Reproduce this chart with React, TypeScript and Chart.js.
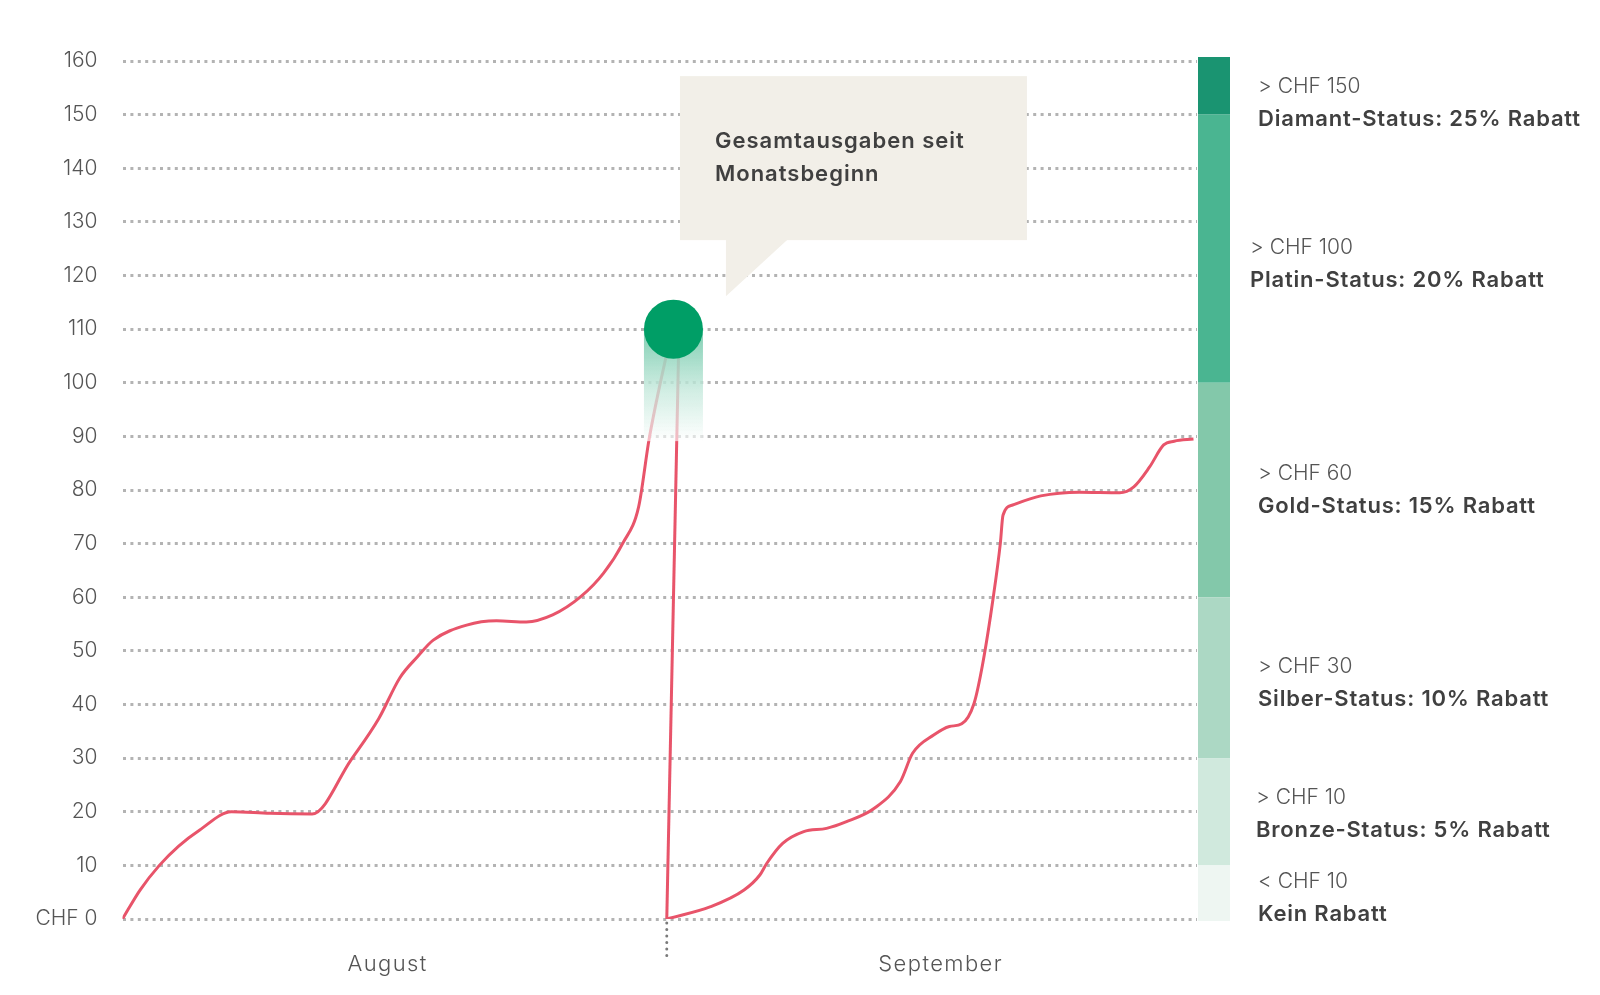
import { useEffect, useRef } from "react";
import { Chart, registerables } from "chart.js";

Chart.register(...registerables);

// ---------- data ----------
const MONTHS = ["August", "September"];
const MONTH_LABEL_DAYS = [15.1, 46.6];
const MONTH_BOUNDARY_DAY = 31;

const AUG_DAYS = [0, 1.0, 2.1, 3.2, 4.4, 6.2, 8.4, 10.8, 13.0, 14.6, 15.8, 16.8, 17.7, 19.6, 21.3, 23.0, 24.5, 26.1, 27.4, 28.5, 29.4, 30.0, 31.3];
const AUG_VALUES = [0, 5.4, 10, 13.6, 16.6, 20, 19.7, 19.6, 29.6, 37.4, 45.0, 48.9, 52.0, 54.8, 55.6, 55.4, 56.7, 60.1, 64.5, 70.1, 76.9, 89.6, 110];

const DROP_DAYS = [31.7, 31];
const DROP_VALUES = [110, 0];

const SEP_DAYS = [31, 33.5, 35.4, 36.3, 36.7, 37.6, 38.8, 40.1, 41.2, 42.8, 44.3, 45.0, 46.2, 47.1, 47.8, 48.5, 49.0, 49.6, 50.0, 50.15, 50.7, 52.3, 54.5, 56.8, 57.6, 58.5, 59.3, 59.9, 61.0];
const SEP_VALUES = [0, 2.3, 5.4, 8.2, 10.4, 14.1, 16.3, 16.9, 18.1, 20.6, 25.6, 30.9, 34.3, 35.9, 36.4, 40.2, 47.7, 60.1, 70.1, 75.3, 77.2, 78.9, 79.6, 79.5, 80.6, 84.3, 88.4, 89.1, 89.5];

const DOT_DAY = 31.38;
const DOT_VALUE = 110;

const Y_TICKS = [0, 10, 20, 30, 40, 50, 60, 70, 80, 90, 100, 110, 120, 130, 140, 150, 160];

const TIER_MIN = [150, 100, 60, 30, 10, 0];
const TIER_MAX = [160, 150, 100, 60, 30, 10];
const TIER_COLORS = ["#1a9471", "#4ab591", "#83c8aa", "#acd8c4", "#d0e9dd", "#eef6f2"];
const TIER_THRESHOLDS = ["> CHF 150", "> CHF 100", "> CHF 60", "> CHF 30", "> CHF 10", "< CHF 10"];
const TIER_NAMES = [
  "Diamant-Status: 25% Rabatt",
  "Platin-Status: 20% Rabatt",
  "Gold-Status: 15% Rabatt",
  "Silber-Status: 10% Rabatt",
  "Bronze-Status: 5% Rabatt",
  "Kein Rabatt",
];

const CALLOUT_LINES = ["Gesamtausgaben seit", "Monatsbeginn"];

// ---------- styles / layout ----------
const FONT = 'Inter, "Noto Sans", sans-serif';
const LINE_COLOR = "#e8546a";
const DOT_COLOR = "#009e66";
const TEXT_COLOR = "#555555";
const BOLD_COLOR = "#404040";
const TIER_LABEL_NUDGE = [5, 5, -10, -5, -8, -4];
const TIER_LABEL_X = [1258, 1250, 1258, 1258, 1256, 1258];

const toPoints = (xs: number[], ys: number[]) => xs.map((x, i) => ({ x, y: ys[i] }));

const overlayPlugin = {
  id: "overlay",
  beforeDatasetsDraw(chart: any) {
    const { ctx } = chart;
    const y = chart.scales.y;
    const x = chart.scales.x;
    // tier bar
    const left = chart.chartArea.right + 1;
    const w = 32;
    ctx.save();
    for (let i = 0; i < TIER_MIN.length; i++) {
      let top = y.getPixelForValue(TIER_MAX[i]);
      let bot = y.getPixelForValue(TIER_MIN[i]);
      if (i === 0) top -= 4;
      if (i === TIER_MIN.length - 1) bot += 2;
      ctx.fillStyle = TIER_COLORS[i];
      ctx.fillRect(left, top, w, bot - top);
    }
    // tier labels
    for (let i = 0; i < TIER_MIN.length; i++) {
      const top = y.getPixelForValue(TIER_MAX[i]);
      const bot = y.getPixelForValue(TIER_MIN[i]);
      const base = (top + bot) / 2 + TIER_LABEL_NUDGE[i];
      ctx.textBaseline = "alphabetic";
      ctx.textAlign = "left";
      ctx.fillStyle = TEXT_COLOR;
      ctx.font = `300 21px ${FONT}`;
      (ctx as any).letterSpacing = "0px";
      ctx.fillText(TIER_THRESHOLDS[i], TIER_LABEL_X[i], base);
      ctx.fillStyle = BOLD_COLOR;
      ctx.font = `600 22px ${FONT}`;
      (ctx as any).letterSpacing = "0.8px";
      ctx.fillText(TIER_NAMES[i], TIER_LABEL_X[i], base + 33);
    }
    // month labels
    (ctx as any).letterSpacing = "1.4px";
    ctx.font = `300 22px ${FONT}`;
    ctx.fillStyle = TEXT_COLOR;
    ctx.textAlign = "center";
    ctx.textBaseline = "middle";
    MONTHS.forEach((m, i) => ctx.fillText(m, x.getPixelForValue(MONTH_LABEL_DAYS[i]), chart.chartArea.bottom + 45));
    (ctx as any).letterSpacing = "0px";
    // month divider tick
    const xb = x.getPixelForValue(MONTH_BOUNDARY_DAY);
    const y0 = chart.chartArea.bottom;
    ctx.strokeStyle = "#7a7a7a";
    ctx.lineWidth = 3;
    ctx.lineCap = "round";
    ctx.setLineDash([0, 6.5]);
    ctx.beginPath();
    ctx.moveTo(xb, y0 + 4);
    ctx.lineTo(xb, y0 + 40);
    ctx.stroke();
    ctx.restore();
  },
  beforeDatasetDraw(chart: any, args: any) {
    if (args.index !== 0) return;
    const { ctx } = chart;
    const px = chart.scales.x.getPixelForValue(DOT_DAY);
    const py = chart.scales.y.getPixelForValue(DOT_VALUE);
    const r = 29.5;
    const h = 112;
    ctx.save();
    const g1 = ctx.createLinearGradient(0, py, 0, py + h);
    g1.addColorStop(0, "rgba(255,255,255,0.92)");
    g1.addColorStop(1, "rgba(255,255,255,0.6)");
    ctx.fillStyle = g1;
    ctx.fillRect(px - r, py, 2 * r, h);
    const g2 = ctx.createLinearGradient(0, py, 0, py + h);
    g2.addColorStop(0, "rgba(0,158,102,0.5)");
    g2.addColorStop(0.55, "rgba(0,158,102,0.18)");
    g2.addColorStop(1, "rgba(0,158,102,0)");
    ctx.fillStyle = g2;
    ctx.fillRect(px - r, py, 2 * r, h);
    ctx.restore();
  },
  afterDraw(chart: any) {
    const { ctx } = chart;
    const px = chart.scales.x.getPixelForValue(DOT_DAY);
    const py = chart.scales.y.getPixelForValue(DOT_VALUE);
    const bx = px + 6.5;
    const by = py - 253;
    const bw = 347;
    const bh = 164;
    ctx.save();
    ctx.fillStyle = "#f2efe8";
    ctx.fillRect(bx, by, bw, bh);
    ctx.beginPath();
    ctx.moveTo(px + 52.5, by + bh - 1);
    ctx.lineTo(px + 114.5, by + bh - 1);
    ctx.lineTo(px + 52.5, py - 33);
    ctx.closePath();
    ctx.fill();
    ctx.fillStyle = BOLD_COLOR;
    ctx.font = `600 22px ${FONT}`;
    (ctx as any).letterSpacing = "1px";
    ctx.textBaseline = "alphabetic";
    ctx.textAlign = "left";
    CALLOUT_LINES.forEach((t, i) => ctx.fillText(t, bx + 35, by + 72 + i * 33));
    (ctx as any).letterSpacing = "0px";
    ctx.restore();
  },
};

export default function App() {
  const ref = useRef<HTMLCanvasElement | null>(null);
  useEffect(() => {
    if (!ref.current) return;
    const chart = new Chart(ref.current, {
      type: "line",
      data: {
        datasets: [
          {
            data: [{ x: DOT_DAY, y: DOT_VALUE }],
            pointRadius: 29.5,
            pointBackgroundColor: DOT_COLOR,
            pointBorderWidth: 0,
            showLine: false,
          },
          {
            data: toPoints(AUG_DAYS, AUG_VALUES),
            borderColor: LINE_COLOR,
            borderWidth: 3,
            pointRadius: 0,
            cubicInterpolationMode: "monotone",
          },
          {
            data: toPoints(DROP_DAYS, DROP_VALUES),
            borderColor: LINE_COLOR,
            borderWidth: 3,
            pointRadius: 0,
            tension: 0,
          },
          {
            data: toPoints(SEP_DAYS, SEP_VALUES),
            borderColor: LINE_COLOR,
            borderWidth: 3,
            pointRadius: 0,
            cubicInterpolationMode: "monotone",
          },
        ],
      } as any,
      options: {
        animation: false,
        responsive: false,
        devicePixelRatio: 1,
        layout: { padding: { left: 0, top: 61, right: 403, bottom: 0 } },
        plugins: { legend: { display: false }, tooltip: { enabled: false } },
        events: [],
        scales: {
          x: {
            type: "linear",
            min: 0,
            max: 61.2,
            grid: { display: false },
            border: { display: false },
            afterFit: (s: any) => {
              s.height = 76;
            },
            ticks: { display: false },
          },
          y: {
            min: 0,
            max: 160,
            afterFit: (s: any) => {
              s.width = 122.5;
            },
            afterBuildTicks: (s: any) => {
              s.ticks = Y_TICKS.map((v) => ({ value: v }));
            },
            grid: { color: "#b3b3b3", lineWidth: 3, drawTicks: false },
            border: { display: false, dash: [3, 4.4] },
            ticks: {
              padding: 25,
              color: TEXT_COLOR,
              font: { family: FONT, size: 21, weight: "300" },
              callback: (v: any) => (Number(v) === 0 ? "CHF 0" : String(v)),
            },
          },
        },
      } as any,
      plugins: [overlayPlugin],
    });
    return () => chart.destroy();
  }, []);
  return (
    <div style={{ position: "absolute", left: 0, top: 0, width: 1600, height: 995, background: "#fff" }}>
      <canvas ref={ref} width={1600} height={995} style={{ display: "block", width: 1600, height: 995 }} />
    </div>
  );
}
